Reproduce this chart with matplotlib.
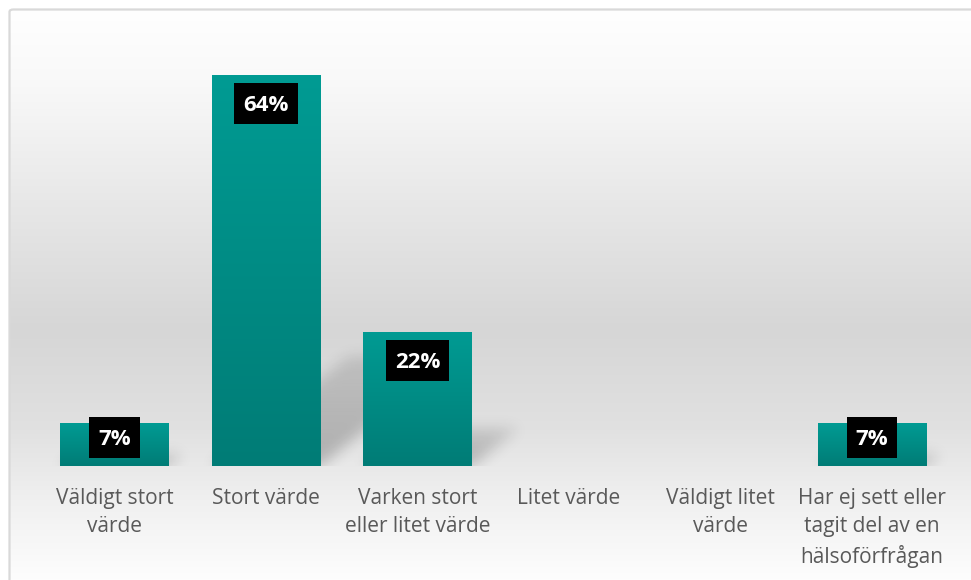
import numpy as np
import matplotlib
matplotlib.use("Agg")
import matplotlib.pyplot as plt
from matplotlib.patches import FancyBboxPatch, Rectangle
from matplotlib.transforms import IdentityTransform

# ---- data ----
categories = ["Väldigt stort\nvärde", "Stort värde", "Varken stort\neller litet värde",
              "Litet värde", "Väldigt litet\nvärde", "Har ej sett eller\ntagit del av en\nhälsoförfrågan"]
values = [7, 64, 22, 0, 0, 7]
value_labels = ["7%", "64%", "22%", "", "", "7%"]

W, H, DPI = 971, 580, 100
fig = plt.figure(figsize=(W / DPI, H / DPI), dpi=DPI)
fig.patch.set_facecolor("white")

# ---- background gradient inside the chart border ----
bg = fig.add_axes([9 / W, 0, 1 - 9 / W, 1 - 9 / H])
rows = np.arange(9, 581)
stops_y = [9, 80, 200, 330, 430, 500, 580]
stops_v = [255, 249, 232, 214, 225, 240, 253]
g = np.interp(rows, stops_y, stops_v) / 255.0
grad = np.repeat(g[:, None, None], 3, axis=2)
bg.imshow(grad, aspect="auto", extent=(0, 1, 0, 1), interpolation="bilinear")
bg.set_axis_off()
bg.set_zorder(0)

border = FancyBboxPatch((9.5 / W, -20 / H), 1.2, (H - 9.5 + 20) / H,
                        boxstyle="round,pad=0,rounding_size=0.004",
                        transform=fig.transFigure, facecolor="none",
                        edgecolor="#d9d9d9", linewidth=1.6, clip_on=False, zorder=5)
fig.add_artist(border)

# ---- main axes ----
ax_left, ax_right = 38.7 / W, 947.8 / W
ax_bottom, ax_top = (H - 466) / H, (H - 40) / H
ax = fig.add_axes([ax_left, ax_bottom, ax_right - ax_left, ax_top - ax_bottom])
ax.set_zorder(1)
ax.patch.set_alpha(0)
x = np.arange(len(categories))
ymax = 426 / 6.11
ax.set_xlim(-0.5, len(categories) - 0.5)
ax.set_ylim(0, ymax)
for s in ax.spines.values():
    s.set_visible(False)
ax.set_yticks([])

bar_w = 0.715
bars = ax.bar(x, values, width=bar_w, color="#008c85", zorder=3)

# ---- perspective shadows (blurred) ----
nx, ny = 909, 426
xs = np.linspace(-0.5, len(categories) - 0.5, nx)
ys = np.linspace(0, ymax, ny)
XX, YY = np.meshgrid(xs, ys)
mask = np.zeros((ny, nx))
k, sx = 0.28, 0.05
for b, v in zip(bars, values):
    if v <= 0:
        continue
    x0, x1 = b.get_x(), b.get_x() + b.get_width()
    hh = k * v
    inside = (YY <= hh) & (XX >= x0 + YY * sx) & (XX <= x1 + YY * sx)
    fade = np.clip(1 - YY / (hh + 1e-9) * 0.5, 0, 1)
    mask = np.maximum(mask, inside * fade)

def blur1d(a, sigma, axis):
    r = int(3 * sigma)
    kern = np.exp(-0.5 * (np.arange(-r, r + 1) / sigma) ** 2)
    kern /= kern.sum()
    return np.apply_along_axis(lambda m: np.convolve(m, kern, mode="same"), axis, a)

mask = blur1d(blur1d(mask, 7, 1), 7, 0)
shadow = np.zeros((ny, nx, 4))
shadow[..., 3] = mask * 0.24
ax.imshow(shadow, origin="lower", extent=(-0.5, len(categories) - 0.5, 0, ymax),
          aspect="auto", zorder=2, interpolation="bilinear")

# ---- gradient fill for bars ----
top_c = np.array([0, 155, 147]) / 255
bot_c = np.array([0, 124, 118]) / 255
tt = np.linspace(0, 1, 100)[:, None]
bar_grad = (bot_c[None, :] * (1 - tt) + top_c[None, :] * tt)[:, None, :]
for b, v in zip(bars, values):
    if v <= 0:
        continue
    im = ax.imshow(bar_grad, origin="lower", aspect="auto",
                   extent=(b.get_x(), b.get_x() + b.get_width(), 0, v),
                   zorder=3.5, interpolation="bilinear")
    im.set_clip_path(b)
ax.set_xlim(-0.5, len(categories) - 0.5)
ax.set_ylim(0, ymax)

# ---- x tick labels ----
ax.set_xticks(x)
ax.set_xticklabels(categories, fontsize=15, color="#595959", family="Open Sans")
for t in ax.get_xticklabels():
    t.set_linespacing(1.43)
ax.tick_params(axis="x", length=0, pad=16)

# ---- value labels in black boxes ----
renderer = fig.canvas.get_renderer()
fs = 16
fs_px = fs * DPI / 72
cap = 0.714 * fs_px
for i, (v, lab) in enumerate(zip(values, value_labels)):
    if v <= 0 or not lab:
        continue
    cx, top_px = ax.transData.transform((i, v))
    _, base_px = ax.transData.transform((i, 0))
    h_px = top_px - base_px
    off = min(28.5, 0.33 * h_px)
    cy = top_px - off
    t = fig.text(cx, cy - cap / 2, lab, transform=IdentityTransform(), ha="center",
                 va="baseline", color="white", fontsize=fs, fontweight="bold",
                 family="Open Sans", zorder=7)
    ext = t.get_window_extent(renderer=renderer)
    bw = ext.width + 18
    bh = 41
    fig.add_artist(Rectangle((cx - bw / 2, cy - bh / 2), bw, bh,
                             transform=IdentityTransform(), facecolor="black",
                             edgecolor="none", zorder=6))

fig.savefig("out.png", dpi=DPI)
